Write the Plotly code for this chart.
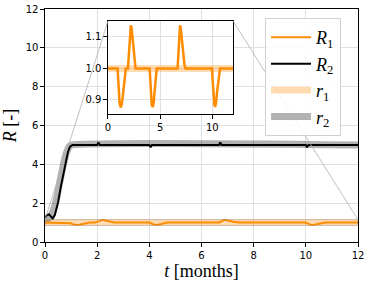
import plotly.graph_objects as go

# ---- data ----
t_R1 = [0, 0.93, 0.98, 1.05, 1.12, 1.22, 1.32, 1.42, 1.52, 1.62, 1.72,
        1.92, 1.98, 2.05, 2.12, 2.2, 2.28, 2.38, 2.48, 2.57, 2.65,
        4.0, 4.06, 4.13, 4.2, 4.29, 4.38, 4.47, 4.57, 4.68,
        6.68, 6.73, 6.8, 6.86, 6.91, 6.99, 7.1, 7.22, 7.34, 7.45,
        9.98, 10.04, 10.12, 10.2, 10.27, 10.36, 10.46, 10.6, 10.75, 12]
R1 = [1.0, 1.0, 0.97, 0.92, 0.89, 0.876, 0.885, 0.91, 0.945, 0.98, 1.0,
      1.0, 1.03, 1.08, 1.12, 1.137, 1.125, 1.085, 1.04, 1.01, 1.0,
      1.0, 0.96, 0.91, 0.885, 0.877, 0.89, 0.925, 0.97, 1.0,
      1.0, 1.04, 1.1, 1.13, 1.137, 1.125, 1.08, 1.04, 1.01, 1.0,
      1.0, 0.96, 0.91, 0.885, 0.878, 0.89, 0.925, 0.97, 1.0, 1.0]

t_R2 = [0, 0.07, 0.15, 0.22, 0.3, 0.38, 0.5, 0.6, 0.69, 0.8, 0.88, 0.95, 1.01, 1.05,
        2.0, 2.05, 2.1, 4.0, 4.05, 4.1, 6.67, 6.72, 6.77, 10.0, 10.05, 10.1, 12]
R2 = [1.26, 1.38, 1.42, 1.3, 1.21, 1.4, 2.04, 2.8, 3.43, 4.2, 4.64, 4.9, 4.98, 5.0,
      5.0, 5.12, 5.0, 5.0, 4.88, 5.0, 5.0, 5.12, 5.0, 5.0, 4.88, 5.0, 5.0]

t_r1 = [0, 12]
r1 = [1.0, 1.0]

t_r2 = [0, 0.2, 0.4, 0.6, 0.8, 0.95, 1.05, 12]
r2 = [1.1, 1.3, 2.0, 3.3, 4.5, 4.95, 5.0, 5.0]

x_ticks = [0, 2, 4, 6, 8, 10, 12]
y_ticks = [0, 2, 4, 6, 8, 10, 12]
inset_x_ticks = [0, 5, 10]
inset_y_ticks = [0.9, 1.0, 1.1]
inset_y_labels = ["0.9", "1.0", "1.1"]

main_xrange = [0, 12]
main_yrange = [0, 12]
inset_xrange = [0, 12]
inset_yrange = [0.855, 1.15]
inset_dom_x = [0.201, 0.601]
inset_dom_y = [0.549, 0.948]

ORANGE = "#ff8c00"
BAND1 = "rgba(255,140,0,0.3)"
BAND2 = "rgba(0,0,0,0.3)"
SERIF = "Liberation Serif, DejaVu Serif, serif"
SANS = "DejaVu Sans, sans-serif"

fig = go.Figure()

# main bands
fig.add_trace(go.Scatter(x=t_r1, y=r1, mode="lines", line=dict(color=BAND1, width=7),
                         name="<i>r</i><sub>1</sub>", legendrank=3))
fig.add_trace(go.Scatter(x=t_r2, y=r2, mode="lines", line=dict(color=BAND2, width=7, shape="spline"),
                         name="<i>r</i><sub>2</sub>", legendrank=4))
# main lines
fig.add_trace(go.Scatter(x=t_R1, y=R1, mode="lines", line=dict(color=ORANGE, width=2),
                         name="<i>R</i><sub>1</sub>", legendrank=1))
fig.add_trace(go.Scatter(x=t_R2, y=R2, mode="lines", line=dict(color="black", width=2),
                         name="<i>R</i><sub>2</sub>", legendrank=2))

# inset
fig.add_trace(go.Scatter(x=t_r1, y=r1, mode="lines", line=dict(color=BAND1, width=7),
                         showlegend=False, xaxis="x2", yaxis="y2"))
fig.add_trace(go.Scatter(x=t_R1, y=R1, mode="lines", line=dict(color=ORANGE, width=2.5),
                         showlegend=False, xaxis="x2", yaxis="y2"))

axis_common = dict(showgrid=True, gridcolor="#e0e0e0", gridwidth=1, showline=True, linecolor="black",
                   linewidth=1.2, mirror=True, ticks="outside", ticklen=3.5, tickcolor="black",
                   tickfont=dict(family=SANS, size=10, color="black"), zeroline=False, automargin=False)

def to_paper(v, rng):
    return (v - rng[0]) / (rng[1] - rng[0])

# connector lines and zoom region box
zy = to_paper(inset_yrange[1], main_yrange)
shapes = [
    dict(type="rect", xref="x", yref="y", x0=inset_xrange[0], x1=inset_xrange[1],
         y0=inset_yrange[0], y1=inset_yrange[1], line=dict(color="rgba(150,150,150,0.6)", width=0.8), layer="above"),
    dict(type="line", xref="paper", yref="paper", x0=inset_dom_x[0], y0=inset_dom_y[1],
         x1=to_paper(inset_xrange[0], main_xrange), y1=zy, line=dict(color="#b0b0b0", width=0.8), layer="above"),
    dict(type="line", xref="paper", yref="paper", x0=inset_dom_x[1], y0=inset_dom_y[1],
         x1=to_paper(inset_xrange[1], main_xrange), y1=zy, line=dict(color="#b0b0b0", width=0.8), layer="above"),
]

fig.update_layout(
    width=370, height=286,
    margin=dict(l=45, r=12, t=9, b=44, autoexpand=False),
    paper_bgcolor="white", plot_bgcolor="white",
    xaxis=dict(range=main_xrange, tickvals=x_ticks, domain=[0, 1],
               title=dict(text="<i>t</i> [months]", font=dict(family=SERIF, size=18, color="black"), standoff=4),
               **axis_common),
    yaxis=dict(range=main_yrange, tickvals=y_ticks, domain=[0, 1],
               title=dict(text="<i>R</i> [-]", font=dict(family=SERIF, size=18, color="black"), standoff=6),
               **axis_common),
    xaxis2=dict(range=inset_xrange, tickvals=inset_x_ticks, domain=inset_dom_x, anchor="y2", **axis_common),
    yaxis2=dict(range=inset_yrange, tickvals=inset_y_ticks, ticktext=inset_y_labels, domain=inset_dom_y,
                anchor="x2", **axis_common),
    legend=dict(x=0.703, y=0.961, xanchor="left", yanchor="top",
                bgcolor="rgba(255,255,255,0.85)", bordercolor="#d0d0d0", borderwidth=1,
                font=dict(family=SERIF, size=18, color="black"), itemwidth=40, tracegroupgap=0),
    shapes=shapes,
    showlegend=True,
)

fig.write_html("out.html", config={"displayModeBar": False},
               post_script="document.body.style.margin='0';document.body.style.overflow='hidden';")
